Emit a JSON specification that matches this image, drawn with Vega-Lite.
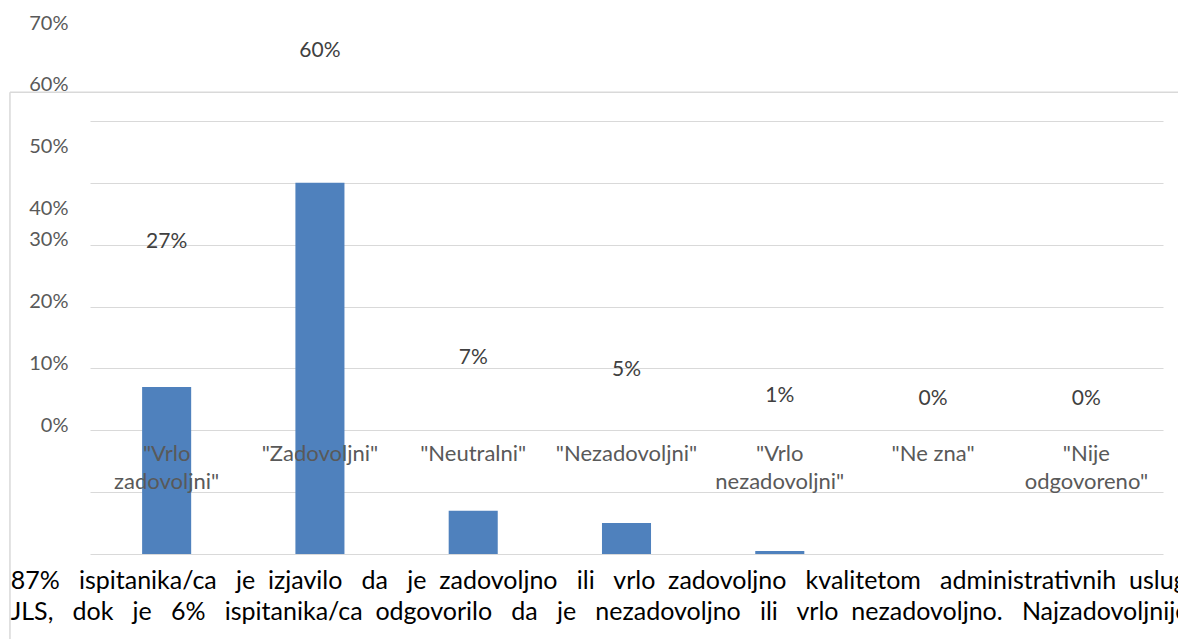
{
  "$schema": "https://vega.github.io/schema/vega-lite/v6.json",
  "width": 1073,
  "height": 433,
  "autosize": {"type": "none"},
  "padding": {"left": 90, "top": 121, "right": 15, "bottom": 85},
  "background": "#ffffff",
  "config": {"view": {"stroke": null}, "font": "Lato"},
  "title": {
    "text": [
      "87%\u00a0\u00a0 ispitanika/ca\u00a0\u00a0 je\u00a0 izjavilo\u00a0\u00a0 da\u00a0\u00a0 je\u00a0 zadovoljno\u00a0\u00a0 ili\u00a0\u00a0 vrlo\u00a0 zadovoljno\u00a0\u00a0 kvalitetom\u00a0\u00a0 administrativnih\u00a0 usluga",
      "JLS,\u00a0\u00a0 dok\u00a0\u00a0 je\u00a0\u00a0 6%\u00a0\u00a0 ispitanika/ca\u00a0 odgovorilo\u00a0\u00a0 da\u00a0\u00a0 je\u00a0\u00a0 nezadovoljno\u00a0\u00a0 ili\u00a0\u00a0 vrlo\u00a0 nezadovoljno.\u00a0\u00a0 Najzadovoljnije"
    ],
    "orient": "bottom",
    "anchor": "start",
    "font": "Lato",
    "fontSize": 25,
    "fontWeight": "normal",
    "color": "#000000",
    "lineHeight": 31,
    "dx": 1.5,
    "offset": -79
  },
  "data": {
    "values": [
      {"category": "\"Vrlo zadovoljni\"", "value": 0.27},
      {"category": "\"Zadovoljni\"", "value": 0.6},
      {"category": "\"Neutralni\"", "value": 0.07},
      {"category": "\"Nezadovoljni\"", "value": 0.05},
      {"category": "\"Vrlo nezadovoljni\"", "value": 0.005},
      {"category": "\"Ne zna\"", "value": 0},
      {"category": "\"Nije odgovoreno\"", "value": 0}
    ]
  },
  "resolve": {"scale": {"x": "independent", "y": "independent"}},
  "layer": [
    {
      "mark": {"type": "bar", "color": "#4f81bd"},
      "encoding": {
        "x": {
          "field": "category",
          "type": "nominal",
          "sort": null,
          "scale": {"paddingInner": 0.68, "paddingOuter": 0.34},
          "axis": {
            "title": null,
            "domain": false,
            "ticks": false,
            "grid": false,
            "zindex": 1,
            "labelAngle": 0,
            "labelPadding": -111,
            "labelBaseline": "top",
            "labelFont": "Lato",
            "labelFontSize": 22,
            "labelLineHeight": 28,
            "labelColor": "#595959",
            "labelOverlap": false,
            "labelLimit": 400,
            "labelExpr": "datum.label == '\"Ne zna\"' ? datum.label : split(datum.label, ' ')"
          }
        },
        "y": {
          "field": "value",
          "type": "quantitative",
          "scale": {"domain": [0, 0.7], "nice": false},
          "axis": {
            "title": null,
            "values": [0, 0.1, 0.2, 0.3, 0.4, 0.5, 0.6, 0.7],
            "format": ".0%",
            "domain": false,
            "ticks": false,
            "grid": true,
            "gridColor": "#d9d9d9",
            "gridWidth": 1,
            "zindex": 0,
            "labelPadding": 22,
            "labelFont": "Lato",
            "labelFontSize": 20,
            "labelColor": "#595959",
            "labelBaseline": "middle",
            "labelOverlap": false,
            "labelOffset": {"condition": {"test": "datum.value >= 0.35", "value": -98}, "value": -129}
          }
        }
      }
    },
    {
      "mark": {"type": "text", "fontSize": 21, "font": "Lato", "color": "#404040", "baseline": "alphabetic"},
      "encoding": {
        "x": {
          "field": "category",
          "type": "nominal",
          "sort": null,
          "scale": {"paddingInner": 0.68, "paddingOuter": 0.34},
          "axis": null
        },
        "y": {
          "field": "value",
          "type": "quantitative",
          "scale": {"domain": [-0.2569, 0.48966], "nice": false, "zero": false},
          "axis": null
        },
        "text": {"field": "value", "type": "quantitative", "format": ".0%"}
      }
    },
    {
      "data": {"values": [{}]},
      "mark": {"type": "rule", "color": "#d9d9d9", "strokeWidth": 1.5},
      "encoding": {
        "x": {"datum": -0.0746, "type": "quantitative", "scale": {"domain": [0, 1], "nice": false, "zero": false}, "axis": null},
        "x2": {"datum": 1.03},
        "y": {"datum": 0.7464, "type": "quantitative", "scale": {"domain": [0, 0.7], "nice": false}, "axis": null}
      }
    },
    {
      "data": {"values": [{}]},
      "mark": {"type": "rule", "color": "#d9d9d9", "strokeWidth": 1.5},
      "encoding": {
        "x": {"datum": -0.0746, "type": "quantitative", "scale": {"domain": [0, 1], "nice": false, "zero": false}, "axis": null},
        "y": {"datum": 0.7464, "type": "quantitative", "scale": {"domain": [0, 0.7], "nice": false}, "axis": null},
        "y2": {"datum": -0.15}
      }
    }
  ]
}
